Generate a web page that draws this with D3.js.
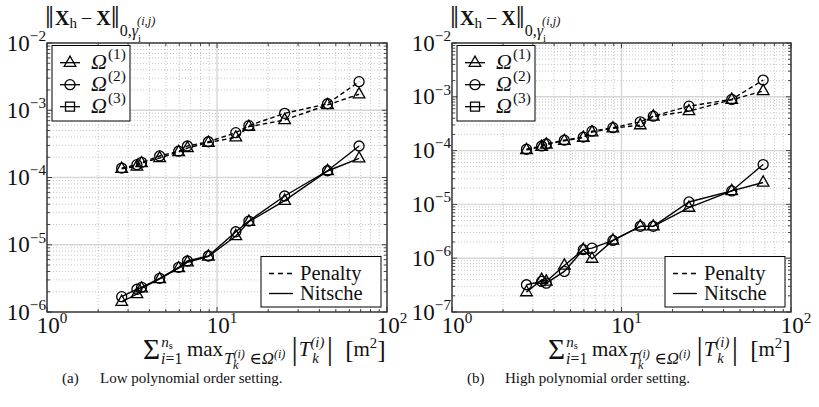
<!DOCTYPE html>
<html><head><meta charset="utf-8">
<script src="https://cdn.jsdelivr.net/npm/d3@7"></script>
<style>
body{margin:0;background:#fff;}
svg{display:block;}
</style></head><body>
<svg id="chart" width="819" height="407" font-family="'Liberation Serif','DejaVu Serif',serif"></svg>
<script>
// Largest element area summed over subdomains [m^2]
const meshSize = [2.75, 3.38, 3.6, 4.6, 5.95, 6.7, 8.9, 12.9, 15.4, 25, 44.7, 68.5];

// (a) low polynomial order
const lowPenaltyOmega1 = [1.35e-4, 1.46e-4, 1.64e-4, 1.95e-4, 2.40e-4, 2.74e-4, 3.30e-4, 3.96e-4, 5.70e-4, 7.16e-4, 1.20e-3, 1.73e-3];
const lowPenaltyOmega2 = [1.38e-4, 1.55e-4, 1.68e-4, 2.09e-4, 2.46e-4, 2.94e-4, 3.40e-4, 4.64e-4, 5.90e-4, 9.00e-4, 1.25e-3, 2.66e-3];
const lowNitscheOmega1 = [1.42e-6, 1.85e-6, 2.25e-6, 3.10e-6, 4.50e-6, 5.50e-6, 6.70e-6, 1.35e-5, 2.20e-5, 4.52e-5, 1.25e-4, 1.93e-4];
const lowNitscheOmega2 = [1.69e-6, 2.18e-6, 2.33e-6, 3.17e-6, 4.62e-6, 5.73e-6, 6.80e-6, 1.56e-5, 2.25e-5, 5.31e-5, 1.26e-4, 2.94e-4];

// (b) high polynomial order
const highPenaltyOmega1 = [1.03e-4, 1.18e-4, 1.30e-4, 1.52e-4, 1.74e-4, 2.20e-4, 2.60e-4, 2.97e-4, 4.30e-4, 5.42e-4, 8.80e-4, 1.28e-3];
const highPenaltyOmega2 = [1.06e-4, 1.22e-4, 1.33e-4, 1.56e-4, 1.78e-4, 2.30e-4, 2.67e-4, 3.42e-4, 4.37e-4, 6.70e-4, 8.95e-4, 2.05e-3];
const highNitscheOmega1 = [2.34e-7, 3.98e-7, 3.70e-7, 7.34e-7, 1.44e-6, 9.80e-7, 2.14e-6, 3.91e-6, 3.91e-6, 8.70e-6, 1.78e-5, 2.55e-5];
const highNitscheOmega2 = [3.21e-7, 3.70e-7, 3.44e-7, 5.68e-7, 1.44e-6, 1.54e-6, 2.14e-6, 3.91e-6, 3.91e-6, 1.11e-5, 1.78e-5, 5.51e-5];

const xDomain = [1, 100];
const yDomainLow = [1e-6, 1e-2];
const yDomainHigh = [1e-7, 1e-2];
const subdomainLabels = ["(1)", "(2)", "(3)"];
const methodLabels = ["Penalty", "Nitsche"];
const captionLetters = ["(a)", "(b)"];
const captionTexts = ["Low polynomial order setting.", "High polynomial order setting."];

const svg = d3.select("#chart");

const markerPath = {
  triangle: "M0,-6.6L5.8,3.6L-5.8,3.6Z",
  circle: d3.symbol().type(d3.symbolCircle).size(Math.PI * 25)(),
  square: "M-4.5,-4.5h9v9h-9Z"
};

// Inline math-like text: parts flow in one chunk, shifted with relative dy
function mathText(g, x, y, size, parts, anchor) {
  const t = g.append("text").attr("x", x).attr("y", y)
    .attr("font-size", size).attr("text-anchor", anchor || "start").attr("fill", "#111");
  let cur = 0;
  parts.forEach(p => {
    const off = (p.dy || 0) * size;
    const s = t.append("tspan").text(p.t)
      .attr("dy", off - cur)
      .attr("font-size", size * (p.s || 1));
    cur = off;
    if (p.dx) s.attr("dx", p.dx);
    if (p.b) s.attr("font-weight", "bold");
    if (p.i) s.attr("font-style", "italic");
  });
  return t;
}

const panels = [
  { left: 47, right: 387, top: 43, bottom: 312, yDomain: yDomainLow,
    penalty: [lowPenaltyOmega1, lowPenaltyOmega2], nitsche: [lowNitscheOmega1, lowNitscheOmega2],
    caption: 0 },
  { left: 452, right: 791, top: 43, bottom: 312, yDomain: yDomainHigh,
    penalty: [highPenaltyOmega1, highPenaltyOmega2], nitsche: [highNitscheOmega1, highNitscheOmega2],
    caption: 1 }
];

const seriesMarkers = ["triangle", "circle"];

panels.forEach(P => {
  const g = svg.append("g");
  const x = d3.scaleLog().domain(xDomain).range([P.left, P.right]);
  const y = d3.scaleLog().domain(P.yDomain).range([P.bottom, P.top]);
  const isMajor = v => Math.abs(Math.log10(v) - Math.round(Math.log10(v))) < 1e-9;

  const xt = x.ticks(), yt = y.ticks();

  // minor grid
  const grid = g.append("g");
  grid.selectAll(".gxm").data(xt.filter(v => !isMajor(v))).join("line")
    .attr("x1", d => x(d)).attr("x2", d => x(d)).attr("y1", P.top).attr("y2", P.bottom)
    .attr("stroke", "#b8b8b8").attr("stroke-width", 0.8).attr("stroke-dasharray", "1,2");
  grid.selectAll(".gym").data(yt.filter(v => !isMajor(v))).join("line")
    .attr("y1", d => y(d)).attr("y2", d => y(d)).attr("x1", P.left).attr("x2", P.right)
    .attr("stroke", "#b8b8b8").attr("stroke-width", 0.8).attr("stroke-dasharray", "1,2");
  // major grid
  grid.selectAll(".gxM").data(xt.filter(isMajor)).join("line")
    .attr("x1", d => x(d)).attr("x2", d => x(d)).attr("y1", P.top).attr("y2", P.bottom)
    .attr("stroke", "#d6d6d6").attr("stroke-width", 1.4);
  grid.selectAll(".gyM").data(yt.filter(isMajor)).join("line")
    .attr("y1", d => y(d)).attr("y2", d => y(d)).attr("x1", P.left).attr("x2", P.right)
    .attr("stroke", "#d6d6d6").attr("stroke-width", 1.4);

  // inward ticks on all four sides
  const tk = g.append("g").attr("stroke", "#333").attr("stroke-width", 0.9);
  xt.forEach(v => {
    const L = isMajor(v) ? 5 : 3;
    tk.append("line").attr("x1", x(v)).attr("x2", x(v)).attr("y1", P.bottom).attr("y2", P.bottom - L);
    tk.append("line").attr("x1", x(v)).attr("x2", x(v)).attr("y1", P.top).attr("y2", P.top + L);
  });
  yt.forEach(v => {
    const L = isMajor(v) ? 5 : 3;
    tk.append("line").attr("y1", y(v)).attr("y2", y(v)).attr("x1", P.left).attr("x2", P.left + L);
    tk.append("line").attr("y1", y(v)).attr("y2", y(v)).attr("x1", P.right).attr("x2", P.right - L);
  });

  // frame
  g.append("rect").attr("x", P.left).attr("y", P.top)
    .attr("width", P.right - P.left).attr("height", P.bottom - P.top)
    .attr("fill", "none").attr("stroke", "#333").attr("stroke-width", 1.4);

  // tick labels
  yt.filter(isMajor).forEach(v => {
    const e = Math.round(Math.log10(v));
    mathText(g, P.left - 1, y(v) + 7.5, 23, [{ t: "10" }, { t: "\u2212" + Math.abs(e), s: 0.66, dy: -0.42 }], "end");
  });
  xt.filter(isMajor).forEach(v => {
    const e = Math.round(Math.log10(v));
    mathText(g, x(v) + 5, P.bottom + 21, 23, [{ t: "10" }, { t: String(e), s: 0.66, dy: -0.42 }], "middle");
  });

  // data lines
  const line = d3.line().x((d, i) => x(meshSize[i])).y(d => y(d));
  P.penalty.forEach(vals => {
    g.append("path").datum(vals).attr("d", line).attr("fill", "none")
      .attr("stroke", "#000").attr("stroke-width", 1.4).attr("stroke-dasharray", "4.5,3");
  });
  P.nitsche.forEach(vals => {
    g.append("path").datum(vals).attr("d", line).attr("fill", "none")
      .attr("stroke", "#000").attr("stroke-width", 1.4);
  });
  // markers
  [P.penalty, P.nitsche].forEach(group => {
    group.forEach((vals, si) => {
      g.append("g").selectAll("path").data(vals).join("path")
        .attr("transform", (d, i) => `translate(${x(meshSize[i])},${y(d)})`)
        .attr("d", markerPath[seriesMarkers[si]])
        .attr("fill", "none").attr("stroke", "#000").attr("stroke-width", 1.3);
    });
  });

  // subdomain legend (top left)
  const lg = g.append("g");
  lg.append("rect").attr("x", P.left + 5).attr("y", 45.5).attr("width", 78).attr("height", 75.5)
    .attr("fill", "#fff").attr("stroke", "#000").attr("stroke-width", 1);
  ["triangle", "circle", "square"].forEach((m, k) => {
    const cy = 62.7 + k * 22;
    lg.append("line").attr("x1", P.left + 13).attr("x2", P.left + 33).attr("y1", cy).attr("y2", cy)
      .attr("stroke", "#000").attr("stroke-width", 1.3);
    lg.append("path").attr("transform", `translate(${P.left + 23},${cy})`).attr("d", markerPath[m])
      .attr("fill", "none").attr("stroke", "#000").attr("stroke-width", 1.3);
    mathText(lg, P.left + 44, cy + 6, 22, [{ t: "\u03A9", i: 1 }, { t: subdomainLabels[k], s: 0.7, dy: -0.45, dx: 1 }]);
  });

  // method legend (bottom right)
  const ml = g.append("g");
  const bx = P.right - 126, bw = 120;
  ml.append("rect").attr("x", bx).attr("y", 256.5).attr("width", bw).attr("height", 50.5)
    .attr("fill", "#fff").attr("stroke", "#000").attr("stroke-width", 1);
  methodLabels.forEach((lab, k) => {
    const ly = 273.5 + k * 20;
    ml.append("line").attr("x1", bx + 8).attr("x2", bx + 32).attr("y1", ly).attr("y2", ly)
      .attr("stroke", "#000").attr("stroke-width", 1.3)
      .attr("stroke-dasharray", k === 0 ? "5,4" : null);
    ml.append("text").attr("x", bx + 39).attr("y", ly + 6.5).attr("font-size", 20.5).attr("fill", "#111").text(lab);
  });

  // y-axis title
  mathText(g, P.left - 2, 25, 20, [
    { t: "\u2016", s: 1.6, dy: 0.15 },
    { t: "X", b: 1, dx: 1 },
    { t: "h", s: 0.75, dy: 0.15 },
    { t: "\u2009\u2212\u2009" },
    { t: "X", b: 1 },
    { t: "\u2016", s: 1.6, dy: 0.15 },
    { t: "0,", s: 0.8, dy: 0.55 },
    { t: "\u03B3", s: 0.8, dy: 0.55, i: 1 },
    { t: "i", s: 0.55, dy: 0.85 },
    { t: "(i,j)", s: 0.62, dy: 0.02, i: 1, dx: -4 }
  ]);

  // x-axis title
  const x0 = P.left + 96;
  mathText(g, x0, 356, 21, [
    { t: "\u03A3", s: 1.4, dy: 0.12 },
    { t: "i", s: 0.75, dy: 0.36, i: 1, dx: 1 },
    { t: "=1", s: 0.75, dy: 0.36 },
    { t: "n", s: 0.72, dy: -0.45, i: 1, dx: -21 },
    { t: "s", s: 0.5, dy: -0.33 },
    { t: "max", dx: 14 },
    { t: "T", s: 0.8, dy: 0.4, i: 1, dx: 1 },
    { t: "(i)", s: 0.58, dy: 0.08, i: 1 },
    { t: "k", s: 0.58, dy: 0.62, i: 1, dx: -12 },
    { t: "\u2208", s: 0.8, dy: 0.4, dx: 11 },
    { t: "\u03A9", s: 0.8, dy: 0.4, i: 1 },
    { t: "(i)", s: 0.58, dy: 0.1, i: 1 },
    { t: "|", s: 1.5, dy: 0.13, dx: 6 },
    { t: "T", i: 1, dx: 1 },
    { t: "(i)", s: 0.7, dy: -0.45, i: 1 },
    { t: "k", s: 0.7, dy: 0.35, i: 1, dx: -12 },
    { t: "|", s: 1.5, dy: 0.13, dx: 8 },
    { t: "[", s: 1.2, dy: 0.08, dx: 12 },
    { t: "m" },
    { t: "2", s: 0.7, dy: -0.4 },
    { t: "]", s: 1.2, dy: 0.08 }
  ]);

  // caption
  g.append("text").attr("x", P.left + 15).attr("y", 383).attr("font-size", 15).attr("fill", "#111")
    .text(captionLetters[P.caption]);
  g.append("text").attr("x", P.left + 53).attr("y", 383).attr("font-size", 15).attr("fill", "#111")
    .text(captionTexts[P.caption]);
});
</script>
</body></html>
